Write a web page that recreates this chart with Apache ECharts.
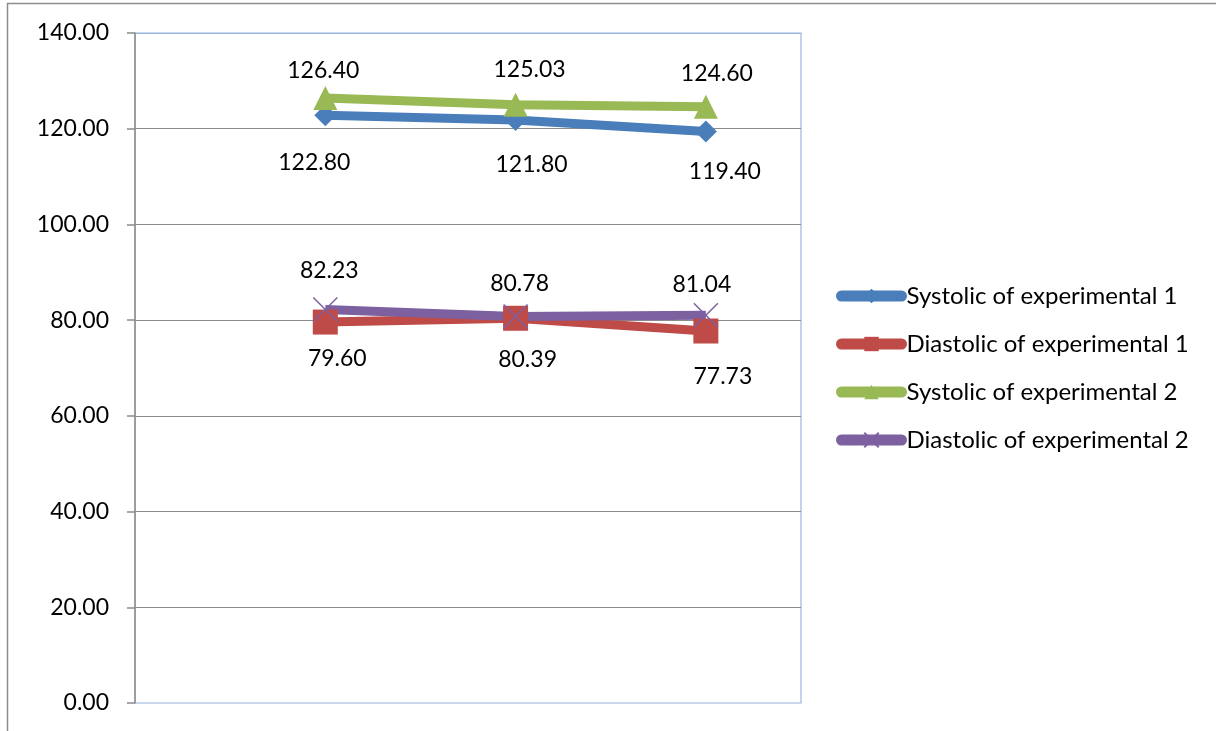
<!DOCTYPE html>
<html>
<head>
<meta charset="utf-8">
<title>Blood pressure of experimental groups</title>
<script src="https://cdn.jsdelivr.net/npm/echarts@6/dist/echarts.min.js"></script>
<style>
  html, body { margin: 0; padding: 0; background: #fff; }
  #chart { width: 1216px; height: 731px; }
</style>
</head>
<body>
<div id="chart"></div>
<script>
// Measurement occasions (positions along the hidden x axis)
const occasions = [1, 2, 3];

// Blood pressure readings (mmHg)
const systolicExp1  = [122.80, 121.80, 119.40];
const diastolicExp1 = [79.60, 80.39, 77.73];
const systolicExp2  = [126.40, 125.03, 124.60];
const diastolicExp2 = [82.23, 80.78, 81.04];

// Y axis tick values
const yTicks = [0, 20, 40, 60, 80, 100, 120, 140];

const seriesNames = [
  'Systolic of experimental 1',
  'Diastolic of experimental 1',
  'Systolic of experimental 2',
  'Diastolic of experimental 2'
];

const FONT = 'Lato, "Open Sans", sans-serif';
const BLUE = '#4a7ebb', RED = '#be4b48', GREEN = '#98b954', PURPLE = '#7d60a0';

// x-shaped marker, drawn as strokes only
const CROSS = 'path://M0,0L10,10M10,0L0,10';

function buildSeries(name, values, color, symbol, symbolSize, nudges, extraItemStyle) {
  return {
    name: name,
    type: 'line',
    data: values.map((v, i) => ({
      value: [occasions[i], v],
      label: { offset: nudges[i] }
    })),
    symbol: symbol,
    symbolSize: symbolSize,
    showAllSymbol: true,
    lineStyle: { color: color, width: 9, cap: 'butt', join: 'round' },
    itemStyle: Object.assign({ color: color, opacity: 1 }, extraItemStyle || {}),
    label: {
      show: true,
      position: 'inside',
      formatter: p => p.value[1].toFixed(2),
      fontFamily: FONT,
      fontSize: 23,
      color: '#000'
    },
    emphasis: { disabled: true },
    animation: false,
    z: 2
  };
}

const chart = echarts.init(document.getElementById('chart'), null, { renderer: 'canvas' });

chart.setOption({
  backgroundColor: '#fff',
  animation: false,
  graphic: [{
    type: 'rect',
    shape: { x: 7.5, y: 3.5, width: 1400, height: 900 },
    style: { fill: 'none', stroke: '#8c8c8c', lineWidth: 1.5 },
    silent: true,
    z: -10
  }],
  grid: {
    left: 135, top: 33, width: 666, height: 670,
    show: true,
    borderColor: '#9ab6de',
    borderWidth: 1.2,
    backgroundColor: 'transparent'
  },
  xAxis: {
    type: 'value',
    min: 0, max: 3.5,
    show: false,
    splitLine: { show: false }
  },
  yAxis: {
    type: 'value',
    min: yTicks[0],
    max: yTicks[yTicks.length - 1],
    interval: yTicks[1] - yTicks[0],
    axisLine: { show: true, lineStyle: { color: '#8c8c8c', width: 1.5 } },
    axisTick: { show: true, length: 8, lineStyle: { color: '#8c8c8c', width: 1.5 } },
    axisLabel: {
      margin: 26,
      fontFamily: FONT,
      fontSize: 23,
      color: '#000',
      formatter: v => v.toFixed(2)
    },
    splitLine: {
      show: true,
      lineStyle: {
        width: 1.2,
        color: ['#c8d6ec', '#8c8c8c', '#8c8c8c', '#8c8c8c', '#8c8c8c', '#8c8c8c', '#8c8c8c', '#9ab6de']
      }
    }
  },
  legend: {
    orient: 'vertical',
    left: 836,
    top: 284,
    padding: 0,
    itemWidth: 60,
    itemHeight: 18,
    itemGap: 24,
    selectedMode: false,
    data: seriesNames,
    lineStyle: { width: 11, cap: 'round' },
    textStyle: { fontFamily: FONT, fontSize: 24, color: '#000', lineHeight: 24 }
  },
  series: [
    buildSeries(seriesNames[0], systolicExp1, BLUE, 'diamond', [22, 22],
      [[-11, 47], [16, 44], [19, 40]]),
    buildSeries(seriesNames[1], diastolicExp1, RED, 'rect', 25,
      [[12, 37], [12, 41], [17, 46]]),
    buildSeries(seriesNames[2], systolicExp2, GREEN, 'triangle', 24,
      [[-2, -28], [14, -35], [11, -33]]),
    buildSeries(seriesNames[3], diastolicExp2, PURPLE, CROSS, 24,
      [[4, -39], [4, -33], [-4, -31]],
      { borderColor: PURPLE, borderWidth: 1.5 })
  ]
});
</script>
</body>
</html>
